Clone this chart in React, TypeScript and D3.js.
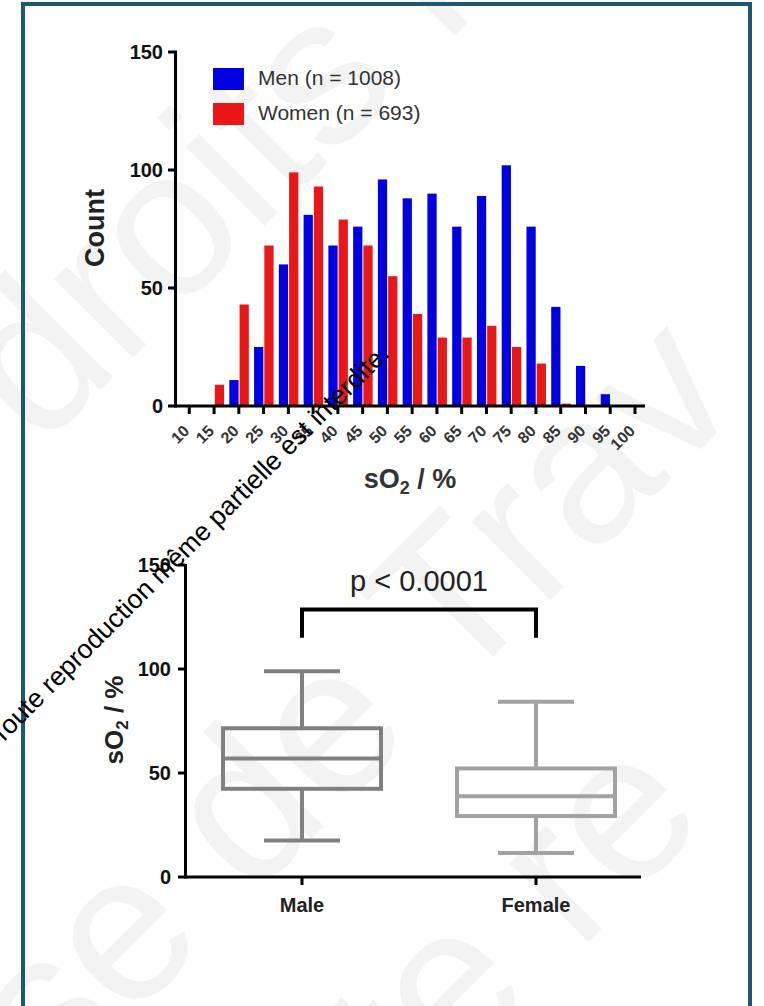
import React from 'react';
import * as d3 from 'd3';

// ---------- Data ----------
const bins = [10, 15, 20, 25, 30, 35, 40, 45, 50, 55, 60, 65, 70, 75, 80, 85, 90, 95, 100];
const menCounts = [0, 0, 11, 25, 60, 81, 68, 76, 96, 88, 90, 76, 89, 102, 76, 42, 17, 5, 0];
const womenCounts = [0, 9, 43, 68, 99, 93, 79, 68, 55, 39, 29, 29, 34, 25, 18, 1, 0, 0, 0];
const seriesNames = ['Men (n = 1008)', 'Women (n = 693)'];
const histYTicks = [0, 50, 100, 150];

const groups = ['Male', 'Female'];
const whiskerLow = [17.5, 11.5];
const q1 = [42.4, 29.3];
const median = [57, 38.8];
const q3 = [71.5, 52.2];
const whiskerHigh = [98.9, 84.2];
const boxYTicks = [0, 50, 100, 150];
const pText = 'p < 0.0001';
const bracketTop = 128.6;
const bracketEnd = 115;

const FONT = '"Liberation Sans", Arial, Helvetica, sans-serif';
const BLUE = '#0000e0';
const RED = '#e81818';
const boxColors = ['#808080', '#a2a2a6'];

export default function App() {
  // histogram scales
  const hx = d3.scaleLinear().domain([10, 100]).range([189.3, 635]);
  const hy = d3.scaleLinear().domain([0, 150]).range([406, 52]);
  const sub = d3.scaleBand().domain(['men', 'women']).range([-9.5, 10]).paddingInner(0);

  // box plot scales
  const bx = d3.scalePoint().domain(groups).range([302, 536]);
  const by = d3.scaleLinear().domain([0, 150]).range([877, 565]);
  const boxHalf = 79;
  const capHalf = 38;

  return (
    <svg
      width={764}
      height={1006}
      style={{ position: 'absolute', left: 0, top: 0, background: '#fff' }}
      fontFamily={FONT}
    >
      <rect x={0} y={0} width={764} height={1006} fill="#fff" />
      {/* faint background watermark */}
      <g fill="#f3f3f3" fontSize={210} fontFamily={FONT}>
        <text transform="translate(40,450) rotate(-45)">droits rés</text>
        <text transform="translate(20,1130) rotate(-45)">ise de Trav</text>
        <text transform="translate(380,1150) rotate(-45)">ite re</text>
      </g>

      {/* frame */}
      <path d="M23,1010 V4 H750 V1010" fill="none" stroke="#175b72" strokeWidth={4} />

      {/* ---------------- Histogram ---------------- */}
      <g>
        {bins.map((b, i) => (
          <g key={b}>
            {menCounts[i] > 0 && (
              <rect
                x={hx(b) + (sub('men') as number)}
                y={hy(menCounts[i])}
                width={sub.bandwidth() - 0.5}
                height={hy(0) - hy(menCounts[i])}
                fill={BLUE}
              />
            )}
            {womenCounts[i] > 0 && (
              <rect
                x={hx(b) + (sub('women') as number) + 0.5}
                y={hy(womenCounts[i])}
                width={sub.bandwidth() - 0.5}
                height={hy(0) - hy(womenCounts[i])}
                fill={RED}
              />
            )}
          </g>
        ))}
        {/* axes */}
        <line x1={175.5} x2={175.5} y1={hy(150) - 1.5} y2={hy(0) + 1.5} stroke="#000" strokeWidth={3} />
        <line x1={174} x2={645} y1={hy(0)} y2={hy(0)} stroke="#000" strokeWidth={3} />
        {histYTicks.map((t) => (
          <g key={t}>
            <line x1={168} x2={175} y1={hy(t)} y2={hy(t)} stroke="#000" strokeWidth={3} />
            <text
              x={163}
              y={hy(t)}
              dy="0.36em"
              textAnchor="end"
              fontSize={20}
              fontWeight="bold"
              fill="#111"
            >
              {t}
            </text>
          </g>
        ))}
        {bins.map((b) => (
          <g key={'xt' + b}>
            <line x1={hx(b)} x2={hx(b)} y1={hy(0)} y2={hy(0) + 8} stroke="#000" strokeWidth={3} />
            <text
              transform={`translate(${hx(b) + 1},432) rotate(-45)`}
              textAnchor="end"
              fontSize={16}
              fontWeight="bold"
              fill="#333"
            >
              {b}
            </text>
          </g>
        ))}
        <text
          transform="translate(104,228) rotate(-90)"
          textAnchor="middle"
          fontSize={27}
          fontWeight="bold"
          fill="#222"
        >
          Count
        </text>
        <text x={410} y={488} textAnchor="middle" fontSize={27} fontWeight="bold" fill="#333">
          sO<tspan fontSize={18} dy={6}>2</tspan>
          <tspan dy={-6}> / %</tspan>
        </text>
        {/* legend */}
        {seriesNames.map((name, i) => (
          <g key={name}>
            <rect x={213} y={68 + i * 35} width={31} height={22} fill={i === 0 ? BLUE : RED} />
            <text x={258} y={85 + i * 35} fontSize={21} fill="#333">
              {name}
            </text>
          </g>
        ))}
      </g>

      {/* ---------------- Box plot ---------------- */}
      <g>
        {groups.map((g, i) => {
          const cx = bx(g) as number;
          const c = boxColors[i];
          return (
            <g key={g} stroke={c} strokeWidth={4} fill="none">
              <line x1={cx} x2={cx} y1={by(whiskerHigh[i])} y2={by(q3[i])} />
              <line x1={cx} x2={cx} y1={by(q1[i])} y2={by(whiskerLow[i])} />
              <line x1={cx - capHalf} x2={cx + capHalf} y1={by(whiskerHigh[i])} y2={by(whiskerHigh[i])} />
              <line x1={cx - capHalf} x2={cx + capHalf} y1={by(whiskerLow[i])} y2={by(whiskerLow[i])} />
              <rect x={cx - boxHalf} y={by(q3[i])} width={boxHalf * 2} height={by(q1[i]) - by(q3[i])} />
              <line x1={cx - boxHalf} x2={cx + boxHalf} y1={by(median[i])} y2={by(median[i])} />
            </g>
          );
        })}
        {/* axes */}
        <line x1={185.5} x2={185.5} y1={by(150) - 1} y2={by(0) + 1.5} stroke="#000" strokeWidth={3} />
        <line x1={184} x2={641} y1={by(0)} y2={by(0)} stroke="#000" strokeWidth={3} />
        {boxYTicks.map((t) => (
          <g key={t}>
            <line x1={178} x2={185} y1={by(t)} y2={by(t)} stroke="#000" strokeWidth={3} />
            <text x={171} y={by(t)} dy="0.36em" textAnchor="end" fontSize={20} fontWeight="bold" fill="#111">
              {t}
            </text>
          </g>
        ))}
        {groups.map((g) => (
          <g key={'bt' + g}>
            <line x1={bx(g)} x2={bx(g)} y1={by(0)} y2={by(0) + 8} stroke="#000" strokeWidth={3} />
            <text x={bx(g)} y={912} textAnchor="middle" fontSize={20} fontWeight="bold" fill="#222">
              {g}
            </text>
          </g>
        ))}
        <text
          transform="translate(123,720) rotate(-90)"
          textAnchor="middle"
          fontSize={26}
          fontWeight="bold"
          fill="#222"
        >
          sO<tspan fontSize={17} dy={5}>2</tspan>
          <tspan dy={-5}> / %</tspan>
        </text>
        {/* significance bracket */}
        <path
          d={`M${bx('Male')},${by(bracketEnd)} V${by(bracketTop)} H${bx('Female')} V${by(bracketEnd)}`}
          fill="none"
          stroke="#000"
          strokeWidth={4}
        />
        <text x={419} y={591} textAnchor="middle" fontSize={29} fill="#222">
          {pText}
        </text>
      </g>

      {/* small overlay watermark */}
      <text
        transform="translate(391,355) rotate(-45)"
        textAnchor="end"
        fontSize={26.5}
        fill="#000"
      >
        Toute reproduction même partielle est interdite.
      </text>
    </svg>
  );
}
